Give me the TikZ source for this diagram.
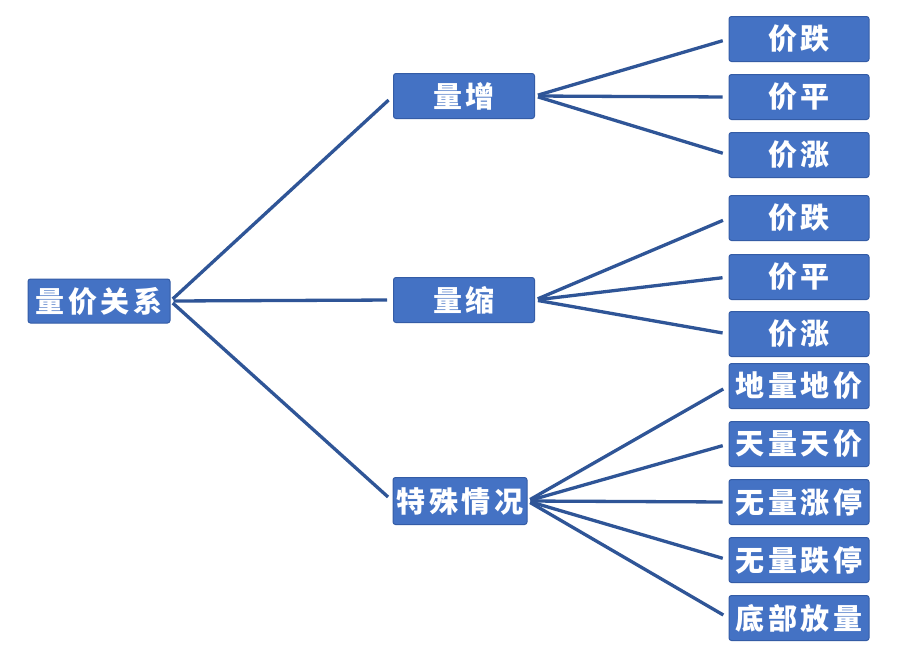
\documentclass[tikz,border=0pt]{standalone}
\usepackage{fontspec}
\newfontfamily\cjk{Noto Sans CJK SC}[LetterSpace=12]
\definecolor{boxfill}{RGB}{68,114,196}
\definecolor{boxedge}{RGB}{52,92,166}
\definecolor{linkblue}{RGB}{47,85,151}
\tikzset{
  box/.style={fill=boxfill, draw=boxedge, line width=1pt, rounded corners=2.5pt,
    text=white, font=\cjk\bfseries\fontsize{29}{32}\selectfont,
    minimum width=140pt, minimum height=45pt, inner sep=0pt},
  link/.style={draw=linkblue, line width=3.3pt, shorten <=3pt, shorten >=6pt}
}
\begin{document}
\begin{tikzpicture}[x=1pt,y=-1pt]
\useasboundingbox[fill=white] (0,0) rectangle (920,654);
\node[box, minimum width=142pt, minimum height=44pt] (root) at (99,301) {量价关系};
\node[box, minimum width=141pt] (zeng) at (464,96) {量增};
\node[box, minimum width=141pt] (suo) at (464,300) {量缩};
\node[box, minimum width=134pt, minimum height=47pt] (te) at (460,501) {特殊情况};

\node[box] (a1) at (799,39) {价跌};
\node[box] (a2) at (799,97) {价平};
\node[box] (a3) at (799,155) {价涨};
\node[box] (b1) at (799,218) {价跌};
\node[box] (b2) at (799,277) {价平};
\node[box] (b3) at (799,334) {价涨};
\node[box] (c1) at (799,386) {地量地价};
\node[box] (c2) at (799,444) {天量天价};
\node[box] (c3) at (799,502) {无量涨停};
\node[box] (c4) at (799,560) {无量跌停};
\node[box] (c5) at (799,618) {底部放量};

\foreach \t in {zeng,suo,te} \draw[link] (root.east) -- (\t.west);
\foreach \t in {a1,a2,a3} \draw[link] (zeng.east) -- (\t.west);
\foreach \t in {b1,b2,b3} \draw[link] (suo.east) -- (\t.west);
\foreach \t in {c1,c2,c3,c4,c5} \draw[link] (te.east) -- (\t.west);
\end{tikzpicture}
\end{document}
